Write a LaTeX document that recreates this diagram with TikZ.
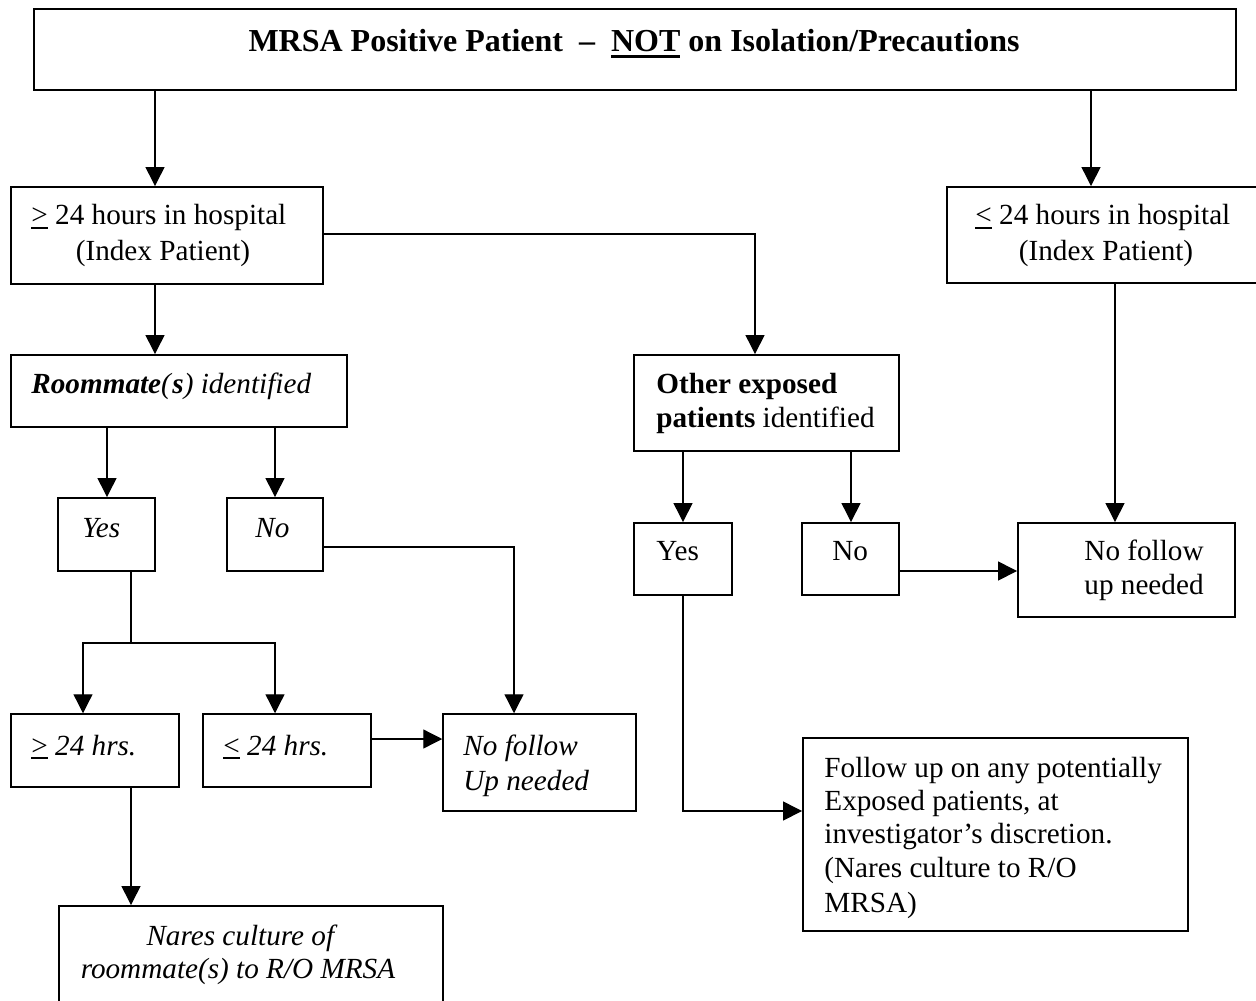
\documentclass[tikz,border=0pt]{standalone}
\usepackage{fontspec}
\setmainfont{Liberation Serif}
\usetikzlibrary{arrows.meta,fit}
\newcommand\myul[2][-2.2pt]{\setbox0\hbox{#2}\rlap{\rule[#1]{\wd0}{1.1pt}}#2}
\begin{document}
\begin{tikzpicture}[x=0.5pt,y=-0.5pt,
  box/.style={draw, line width=0.95pt, inner sep=0pt},
  tbox/.style={draw, line width=0.75pt, inner sep=0pt},
  conn/.style={line width=0.65pt},
  arr/.style={conn, -{Triangle[width=9.5pt,length=9.5pt]}},
  txt/.style={anchor=base west, inner sep=0pt, font=\fontsize{14.6pt}{17pt}\selectfont},
  ctxt/.style={txt, anchor=base},
  ttl/.style={anchor=base, inner sep=0pt, font=\fontsize{16pt}{19pt}\selectfont\bfseries}]
\useasboundingbox (0,0) rectangle (1256,1000);
\fill[white] (0,0) rectangle (1256,1000);
\clip (0,0) rectangle (1256,1000);
% boxes
\node[box, fit={(34,9) (1236,90)}] (top) {};
\node[box, fit={(11,187) (323,284)}] (idx) {};
\node[box, fit={(947,187) (1275,283)}] (rgt) {};
\node[box, fit={(11,355) (347,427)}] (room) {};
\node[box, fit={(634,355) (899,451)}] (oth) {};
\node[box, fit={(58,498) (155,571)}] (yesL) {};
\node[box, fit={(227,498) (323,571)}] (noL) {};
\node[box, fit={(634,523) (732,595)}] (yesR) {};
\node[box, fit={(802,523) (899,595)}] (noR) {};
\node[box, fit={(1018,523) (1235,617)}] (nfR) {};
\node[tbox, fit={(11,714) (179,787)}] (ge) {};
\node[tbox, fit={(203,714) (371,787)}] (le) {};
\node[tbox, fit={(443,714) (636,811)}] (nfL) {};
\node[box, fit={(803,738) (1188,931)}] (fol) {};
\node[box, fit={(59,906) (443,1030)}] (nar) {};
% column / bend coordinates
\coordinate (cA) at (155,0);
\coordinate (cB) at (1091,0);
\coordinate (cC) at (107,0);
\coordinate (cD) at (275,0);
\coordinate (cE) at (683,0);
\coordinate (cF) at (851,0);
\coordinate (cG) at (1115,0);
\coordinate (cH) at (0,571);
\coordinate (cI) at (83,0);
\coordinate (cJ) at (0,739);
\coordinate (b1) at (755,234);
\coordinate (j1) at (131,643);
\coordinate (b2) at (514,547);
\coordinate (b3) at (683,811);
% connectors
\draw[arr] (top.south -| cA) -- (idx.north -| cA);
\draw[arr] (top.south -| cB) -- (rgt.north -| cB);
\draw[arr] (idx.south -| cA) -- (room.north -| cA);
\draw[arr] (idx.east |- b1) -| (oth.north -| b1);
\draw[arr] (room.south -| cC) -- (yesL.north -| cC);
\draw[arr] (room.south -| cD) -- (noL.north -| cD);
\draw[arr] (oth.south -| cE) -- (yesR.north -| cE);
\draw[arr] (oth.south -| cF) -- (noR.north -| cF);
\draw[arr] (rgt.south -| cG) -- (nfR.north -| cG);
\draw[arr] (noR.east |- cH) -- (nfR.west |- cH);
\draw[conn] (yesL.south -| j1) -- (j1);
\draw[arr] (j1) -| (ge.north -| cI);
\draw[arr] (j1) -| (le.north -| cD);
\draw[arr] (noL.east |- b2) -| (nfL.north -| b2);
\draw[arr] (le.east |- cJ) -- (nfL.west |- cJ);
\draw[arr] (ge.south -| j1) -- (nar.north -| j1);
\draw[arr] (yesR.south -| b3) |- (fol.west |- b3);
% texts
\node[ttl] (t0) at (634,52) {MRSA Positive Patient\ \ –\ \ \myul[-2.8pt]{NOT} on Isolation/Precautions};
\node[txt] (t1a) at (31,225) {\myul{>} 24 hours in hospital};
\node[ctxt] (t1b) at (163,260) {(Index Patient)};
\node[txt] (t2a) at (975,225) {\myul{<} 24 hours in hospital};
\node[ctxt] (t2b) at (1106,260) {(Index Patient)};
\node[txt] (t3) at (31,393) {\textbf{\textit{Roommate}}\textit{(}\textbf{\textit{s}}\textit{) identified}};
\node[txt] (t4a) at (656,393) {\textbf{Other exposed}};
\node[txt] (t4b) at (656,427) {\textbf{patients} identified};
\node[txt] (t5) at (82,537) {\textit{Yes}};
\node[txt] (t6) at (255,537) {\textit{No}};
\node[txt] (t7) at (656,560) {Yes};
\node[txt] (t8) at (832,560) {No};
\node[txt] (t9a) at (1084,560) {No follow};
\node[txt] (t9b) at (1084,594) {up needed};
\node[txt] (t10) at (31,755) {\myul{>} \textit{24 hrs.}};
\node[txt] (t11) at (223,755) {\myul{<} \textit{24 hrs.}};
\node[txt] (t12a) at (463,755) {\textit{No follow}};
\node[txt] (t12b) at (463,790) {\textit{Up needed}};
\node[ctxt] (t13a) at (242,945) {\textit{Nares culture of}};
\node[ctxt] (t13b) at (238,978) {\textit{roommate(s) to R/O MRSA}};
\node[txt] (t14a) at (824,777) {Follow up on any potentially};
\node[txt] (t14b) at (824,810) {Exposed patients, at};
\node[txt] (t14c) at (824,843) {investigator’s discretion.};
\node[txt] (t14d) at (824,877) {(Nares culture to R/O};
\node[txt] (t14e) at (824,912) {MRSA)};
\end{tikzpicture}
\end{document}
